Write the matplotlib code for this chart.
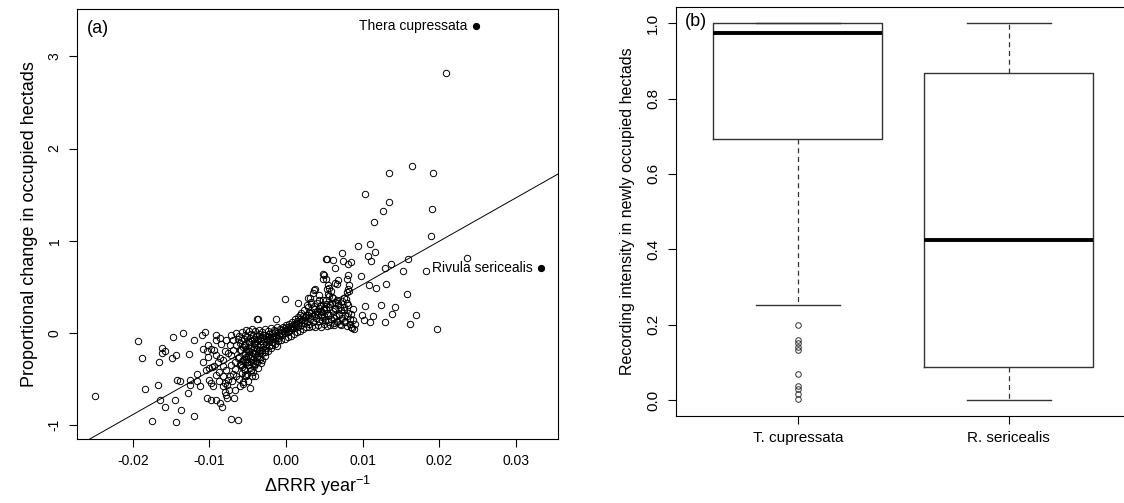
import numpy as np
import matplotlib
matplotlib.use("Agg")
import matplotlib.pyplot as plt

plt.rcParams['font.family'] = ['Liberation Sans', 'DejaVu Sans']
plt.rcParams['axes.unicode_minus'] = False
plt.rcParams['mathtext.fontset'] = 'custom'
plt.rcParams['mathtext.rm'] = 'Liberation Sans'
plt.rcParams['mathtext.it'] = 'Liberation Sans'

# ---- panel (a): species points (delta RRR per year, proportional change) ----
far_left = [
    (-0.02493, -0.68), (-0.01938, -0.09), (-0.01882, -0.27), (-0.01847, -0.61),
    (-0.01755, -0.96), (-0.01656, -0.32), (-0.01647, -0.73), (-0.01677, -0.56),
    (-0.01621, -0.16), (-0.01625, -0.22), (-0.01578, -0.20), (-0.01578, -0.80),
    (-0.01482, -0.04), (-0.01491, -0.27), (-0.01435, -0.24), (-0.01443, -0.97),
    (-0.01452, -0.73), (-0.01426, -0.51), (-0.01387, -0.52), (-0.01374, -0.83),
    (-0.01348, 0.00), (-0.01273, -0.23), (-0.01260, -0.56), (-0.01279, -0.65),
    (-0.01169, -0.44), (-0.01204, -0.08), (-0.01204, -0.90), (-0.01252, -0.51),
    (-0.01165, -0.52), (-0.01126, -0.57), (-0.01091, -0.17), (-0.01096, -0.02),
    (-0.01061, 0.01), (-0.01083, -0.31), (-0.01031, -0.20), (-0.01018, -0.26),
    (-0.01026, -0.70),
]

mid_left = [
    (-0.00974, -0.73), (-0.00909, -0.73), (-0.01048, -0.40), (-0.01005, -0.38),
    (-0.00970, -0.37), (-0.00944, -0.36), (-0.01009, -0.51), (-0.00974, -0.545),
    (-0.00953, -0.58), (-0.00909, -0.02), (-0.00918, -0.08), (-0.00866, -0.05),
    (-0.01018, -0.13), (-0.00974, -0.17), (-0.00944, -0.18), (-0.00909, -0.24),
    (-0.00866, -0.27), (-0.00823, -0.29), (-0.00888, -0.31), (-0.00866, -0.76),
    (-0.00831, -0.80), (-0.00779, -0.67), (-0.00766, -0.71), (-0.00792, -0.64),
    (-0.00823, -0.58), (-0.00800, -0.545), (-0.00758, -0.51), (-0.00736, -0.47),
    (-0.00693, -0.44), (-0.00671, -0.39), (-0.00714, -0.35), (-0.00723, -0.93),
    (-0.00628, -0.94), (-0.00662, -0.62), (-0.00605, -0.58), (-0.00562, -0.53),
    (-0.00518, -0.47), (-0.00475, -0.60), (-0.00410, -0.47), (-0.00380, 0.15),
    (-0.00779, -0.08), (-0.00736, -0.13), (-0.00693, -0.18), (-0.00714, -0.24),
    (-0.00649, -0.13), (-0.00605, -0.18), (-0.00628, -0.27), (-0.00671, -0.31),
    (-0.00584, -0.35), (-0.00562, -0.29), (-0.00518, -0.26), (-0.00497, -0.35),
    (-0.00540, -0.40), (-0.00453, -0.40), (-0.00432, -0.33),
    (-0.0088, -0.42), (-0.0083, -0.36), (-0.0079, -0.40), (-0.0076, -0.22),
    (-0.0072, -0.02), (-0.0069, -0.08), (-0.0066, 0.00), (-0.0063, -0.06),
    (-0.0085, -0.12), (-0.0080, -0.20), (-0.0091, -0.46), (-0.0087, -0.52),
    (-0.0082, -0.47), (-0.0077, -0.56), (-0.0070, -0.52), (-0.0065, -0.47),
    (-0.0068, -0.70), (-0.0074, -0.62),
]

core = [
    (-0.0061, -0.03), (-0.0060, -0.11), (-0.0059, -0.19), (-0.0062, -0.26), (-0.0060, -0.34), (-0.0058, -0.43), (-0.0061, -0.50),
    (-0.0057, 0.01), (-0.0055, -0.07), (-0.0056, -0.15), (-0.0054, -0.22), (-0.0057, -0.30), (-0.0055, -0.39), (-0.0053, -0.46), (-0.0056, -0.55),
    (-0.0052, 0.03), (-0.0051, -0.04), (-0.0053, -0.12), (-0.0050, -0.20), (-0.0052, -0.28), (-0.0049, -0.35), (-0.0051, -0.44), (-0.0050, -0.52),
    (-0.0048, 0.02), (-0.0047, -0.05), (-0.0049, -0.10), (-0.0046, -0.16), (-0.0048, -0.24), (-0.0046, -0.31), (-0.0047, -0.38), (-0.0045, -0.47),
    (-0.0044, 0.04), (-0.0043, -0.02), (-0.0045, -0.08), (-0.0042, -0.15), (-0.0044, -0.21), (-0.0043, -0.28), (-0.0041, -0.34), (-0.0043, -0.42),
    (-0.0040, 0.02), (-0.0039, -0.03), (-0.0041, -0.11), (-0.0038, -0.17), (-0.0040, -0.23), (-0.0039, -0.30), (-0.0037, -0.38),
    (-0.0036, 0.03), (-0.0035, -0.01), (-0.0037, -0.07), (-0.0034, -0.13), (-0.0036, -0.19), (-0.0035, -0.26), (-0.0033, -0.33),
    (-0.0032, 0.01), (-0.0031, -0.04), (-0.0033, -0.09), (-0.0030, -0.15), (-0.0032, -0.22), (-0.0031, -0.29),
    (-0.0028, 0.04), (-0.0027, -0.02), (-0.0029, -0.06), (-0.0026, -0.12), (-0.0028, -0.18), (-0.0027, -0.25),
    (-0.0024, 0.02), (-0.0023, -0.03), (-0.0025, -0.08), (-0.0022, -0.14), (-0.0024, -0.20),
    (-0.0020, 0.05), (-0.0019, 0.00), (-0.0021, -0.05), (-0.0018, -0.10), (-0.0020, -0.16),
    (-0.0016, 0.03), (-0.0015, -0.02), (-0.0017, -0.07), (-0.0014, -0.12),
    (-0.0012, 0.06), (-0.0011, 0.01), (-0.0013, -0.04), (-0.0010, -0.09), (-0.0012, -0.14),
    (-0.0008, 0.04), (-0.0007, 0.00), (-0.0009, -0.03), (-0.0006, -0.08),
    (-0.0004, 0.07), (-0.0003, 0.02), (-0.0005, -0.02), (-0.0002, -0.06),
    (0.0000, 0.09), (0.0001, 0.04), (-0.0001, 0.00), (0.0002, -0.04),
    (0.0004, 0.10), (0.0005, 0.05), (0.0003, 0.01), (0.0006, -0.03),
    (0.0008, 0.12), (0.0009, 0.07), (0.0007, 0.03), (0.0010, -0.01),
    (0.0012, 0.15), (0.0013, 0.09), (0.0011, 0.05), (0.0014, 0.01),
    (0.0016, 0.17), (0.0017, 0.11), (0.0015, 0.06), (0.0018, 0.02),
    (0.0020, 0.22), (0.0021, 0.14), (0.0019, 0.09), (0.0022, 0.04),
    (0.0024, 0.25), (0.0025, 0.17), (0.0023, 0.11), (0.0026, 0.06),
    (0.0028, 0.28), (0.0029, 0.19), (0.0027, 0.12), (0.0030, 0.07),
    (0.0032, 0.31), (0.0033, 0.22), (0.0031, 0.15), (0.0034, 0.08),
    (0.0036, 0.26), (0.0037, 0.18), (0.0035, 0.12), (0.0038, 0.06),
    (0.0040, 0.33), (0.0041, 0.24), (0.0039, 0.16), (0.0042, 0.09),
    (0.0044, 0.29), (0.0045, 0.20), (0.0043, 0.13), (0.0046, 0.07),
    (0.0048, 0.36), (0.0049, 0.25), (0.0047, 0.17), (0.0050, 0.10),
    (0.0052, 0.31), (0.0053, 0.22), (0.0051, 0.14), (0.0054, 0.08),
    (0.0056, 0.28), (0.0057, 0.19), (0.0055, 0.12),
    (0.0060, 0.33), (0.0061, 0.24), (0.0059, 0.15), (0.0062, 0.09),
    (0.0064, 0.27), (0.0065, 0.18), (0.0063, 0.11),
    (0.0068, 0.30), (0.0069, 0.21), (0.0067, 0.13),
    (0.0072, 0.25), (0.0073, 0.16), (0.0071, 0.10),
    (0.0076, 0.28), (0.0077, 0.19), (0.0075, 0.12),
    (0.0080, 0.33), (0.0081, 0.22), (0.0079, 0.08),
    (0.0084, 0.15), (0.0086, 0.05),
    (-0.0054, -0.02), (-0.0050, -0.09), (-0.0046, -0.01), (-0.0042, -0.06),
    (-0.0038, -0.09), (-0.0034, -0.05), (-0.0030, -0.11), (-0.0026, -0.07),
    (-0.0022, -0.01), (-0.0018, -0.04), (-0.0014, 0.02), (-0.0010, -0.05),
    (-0.0052, -0.17), (-0.0048, -0.20), (-0.0044, -0.25), (-0.0040, -0.20),
    (-0.0036, -0.22), (-0.0032, -0.18), (-0.0028, -0.21), (-0.0046, -0.40),
    (-0.0042, -0.36), (-0.0038, -0.32), (-0.0034, -0.28), (-0.0058, -0.37),
    (-0.0054, -0.31), (-0.0050, -0.25), (0.0002, 0.07), (0.0006, 0.08),
    (0.0010, 0.10), (0.0014, 0.13), (0.0018, 0.15), (0.0022, 0.18),
    (0.0026, 0.20), (0.0030, 0.23), (0.0034, 0.18), (0.0038, 0.21),
    (0.0042, 0.19), (0.0046, 0.24), (0.0050, 0.18), (-0.0006, 0.03),
    (-0.0002, 0.05), (0.0004, 0.02), (0.0008, 0.05),
    (-0.00585, -0.08), (-0.00545, -0.13), (-0.00505, -0.32), (-0.00465, -0.27),
    (-0.00425, -0.12), (-0.00385, -0.26), (-0.00345, -0.18), (-0.00305, -0.02),
    (-0.00265, -0.16), (-0.00225, -0.09), (-0.00185, -0.13), (-0.00145, -0.06),
    (0.00125, 0.11), (0.00185, 0.19), (0.00245, 0.14), (0.00305, 0.10),
    (0.00365, 0.29), (0.00425, 0.27), (0.00465, 0.14), (0.00525, 0.26),
]

mid_right = [
    (0.00734, 0.87), (0.00515, 0.80), (0.00530, 0.80), (0.00617, 0.79),
    (0.00748, 0.78), (0.00842, 0.77), (0.00804, 0.75), (0.00640, 0.70),
    (0.00500, 0.63), (0.00515, 0.58), (0.00678, 0.57), (0.00804, 0.63),
    (0.00795, 0.58), (0.00820, 0.52), (0.00664, 0.53), (0.00560, 0.49),
    (0.00828, 0.45), (0.00384, 0.48), (0.00350, 0.43), (0.00290, 0.38),
    (0.00547, 0.42), (0.00594, 0.39), (0.00664, 0.36), (0.00781, 0.37),
    (-0.00014, 0.37), (0.00150, 0.32), (-0.00365, 0.15), (-0.00136, 0.15),
    (0.00479, 0.64), (0.00488, 0.59), (0.00645, 0.54), (0.00553, 0.52),
    (0.00531, 0.48), (0.00589, 0.45), (0.00805, 0.48), (0.00792, 0.44),
    (0.00762, 0.38), (0.00732, 0.35), (0.00609, 0.38), (0.00645, 0.34),
    (0.00566, 0.40), (0.00523, 0.36), (0.00371, 0.47), (0.00306, 0.38),
    (0.00328, 0.34), (0.00271, 0.30), (0.00436, 0.41), (0.00427, 0.36),
    (0.00458, 0.30), (0.00501, 0.27), (0.00471, 0.23), (0.0087, 0.14),
    (0.0083, 0.10), (0.0089, 0.04), (0.0085, 0.07), (0.0077, 0.12),
    (0.0072, 0.09), (0.0066, 0.12), (0.0057, 0.09), (0.0062, 0.16),
    (0.0069, 0.20), (0.0075, 0.25), (0.0079, 0.18), (0.0071, 0.28),
    (0.0064, 0.26), (0.0055, 0.20), (0.0058, 0.31), (0.0068, 0.32),
    (0.0081, 0.30), (0.0085, 0.21), (0.0088, 0.26),
]

far_right = [
    (0.0209, 2.82), (0.01646, 1.81), (0.01342, 1.73), (0.01918, 1.73),
    (0.01029, 1.51), (0.01342, 1.42), (0.01263, 1.32), (0.01904, 1.34),
    (0.01151, 1.20), (0.01890, 1.05), (0.00945, 0.94), (0.01094, 0.97),
    (0.01165, 0.88), (0.01071, 0.84), (0.01108, 0.78), (0.02357, 0.81),
    (0.01590, 0.80), (0.01375, 0.75), (0.01296, 0.71), (0.01829, 0.67),
    (0.01525, 0.67), (0.00982, 0.62), (0.01300, 0.53), (0.01085, 0.52),
    (0.01174, 0.49), (0.01581, 0.42), (0.01422, 0.28), (0.01235, 0.30),
    (0.01029, 0.29), (0.01384, 0.21), (0.00996, 0.20), (0.01702, 0.19),
    (0.01132, 0.18), (0.01024, 0.14), (0.01099, 0.12), (0.01296, 0.12),
    (0.01614, 0.10), (0.01974, 0.04), (0.00898, 0.10),
]

highlight_names = ['Thera cupressata', 'Rivula sericealis']
highlight_x = [0.0248, 0.0333]
highlight_y = [3.33, 0.71]

fit_intercept = 0.055
fit_slope = 47.0

# ---- panel (b): recording intensity boxplots ----
box_labels = ['T. cupressata', 'R. sericealis']
box_med = [0.975, 0.424]
box_q1 = [0.693, 0.089]
box_q3 = [1.0, 0.867]
box_whislo = [0.253, 0.0]
box_whishi = [1.0, 1.0]
tc_outliers = [0.200, 0.160, 0.152, 0.140, 0.132, 0.070, 0.037, 0.030, 0.015, 0.002]
rs_outliers = []

fig = plt.figure(figsize=(11.24, 5.03), dpi=100)

# ---------------- (a) ----------------
ax1 = fig.add_axes([0.0685, 0.1272, 0.4279, 0.8543])
pts = np.array(far_left + mid_left + core + mid_right + far_right)
ax1.plot(pts[:, 0], pts[:, 1], 'o', mfc='none', mec='black', ms=4.6, mew=0.7)

xl = (-0.0273, 0.0355)
xs = np.array(xl)
ax1.plot(xs, fit_intercept + fit_slope * xs, color='black', lw=0.7)

ax1.plot(highlight_x, highlight_y, 'o', color='black', ms=4.2)
for name, hx, hy in zip(highlight_names, highlight_x, highlight_y):
    ax1.annotate(name, (hx, hy), xytext=(-6, 0), textcoords='offset points',
                 ha='right', va='center', fontsize=10)

ax1.set_xlim(xl)
ax1.set_ylim(-1.15, 3.51)
ax1.set_xticks([-0.02, -0.01, 0.0, 0.01, 0.02, 0.03])
ax1.set_xticklabels(['-0.02', '-0.01', '0.00', '0.01', '0.02', '0.03'])
ax1.set_yticks([-1, 0, 1, 2, 3])
ax1.set_yticklabels(['-1', '0', '1', '2', '3'], rotation=90, va='center')
ax1.tick_params(axis='both', labelsize=10, length=6, width=0.8, pad=5)
ax1.set_xlabel('ΔRRR year$^{-1}$', fontsize=13, labelpad=4)
ax1.set_ylabel('Proportional change in occupied hectads', fontsize=13, labelpad=7)
ax1.text(0.02, 0.975, '(a)', transform=ax1.transAxes, ha='left', va='top', fontsize=13)
for s in ax1.spines.values():
    s.set_linewidth(0.8)

# ---------------- (b) ----------------
ax2 = fig.add_axes([0.601, 0.173, 0.4053, 0.8125])
fliers = [tc_outliers, rs_outliers]
stats = []
for i in range(len(box_labels)):
    stats.append(dict(med=box_med[i], q1=box_q1[i], q3=box_q3[i],
                      whislo=box_whislo[i], whishi=box_whishi[i],
                      fliers=fliers[i], label=box_labels[i]))
ax2.bxp(stats, positions=[1, 2], widths=0.8, capwidths=0.4,
        boxprops=dict(color='#333333', lw=1.0),
        medianprops=dict(color='black', lw=2.8),
        whiskerprops=dict(color='#333333', lw=0.9, ls=(0, (4, 3))),
        capprops=dict(color='#333333', lw=1.0),
        flierprops=dict(marker='o', mfc='none', mec='#333333', ms=4, mew=0.7))
ax2.set_xlim(0.42, 2.58)
ax2.set_ylim(-0.042, 1.042)
ax2.set_xticks([1, 2])
ax2.set_xticklabels(box_labels)
ax2.set_yticks([0.0, 0.2, 0.4, 0.6, 0.8, 1.0])
ax2.set_yticklabels(['0.0', '0.2', '0.4', '0.6', '0.8', '1.0'], rotation=90, va='center')
ax2.tick_params(axis='both', labelsize=11, length=6, width=0.8, pad=5)
ax2.set_ylabel('Recording intensity in newly occupied hectads', fontsize=11.5, labelpad=8)
ax2.text(0.02, 0.985, '(b)', transform=ax2.transAxes, ha='left', va='top', fontsize=13)
for s in ax2.spines.values():
    s.set_linewidth(0.8)

fig.savefig('out.png', dpi=100)
